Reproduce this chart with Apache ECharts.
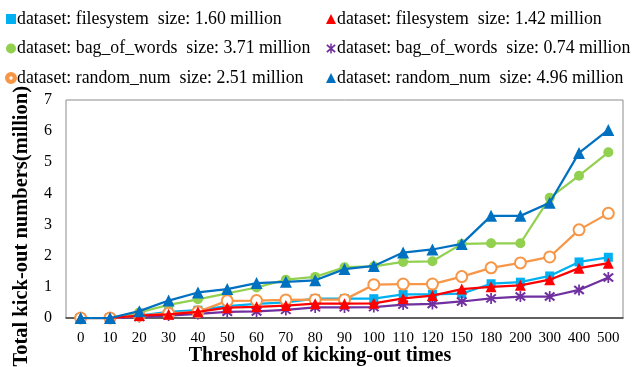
<!DOCTYPE html>
<html>
<head>
<meta charset="utf-8">
<script src="https://cdn.jsdelivr.net/npm/echarts@6/dist/echarts.min.js"></script>
<style>
  html, body { margin: 0; padding: 0; background: #fff; }
  #chart { width: 635px; height: 367px; }
</style>
</head>
<body>
<div id="chart"></div>
<script>
// Threshold of kicking-out times (x categories)
const thresholds = ['0', '10', '20', '30', '40', '50', '60', '70', '80', '90', '100', '110', '120', '150', '180', '200', '300', '400', '500'];

// Total kick-out numbers (million) per dataset
const filesystem160 = [0, 0, 0.08, 0.2, 0.25, 0.38, 0.45, 0.5, 0.62, 0.62, 0.62, 0.76, 0.76, 0.78, 1.1, 1.15, 1.35, 1.8, 1.95];
const filesystem142 = [0, 0, 0.08, 0.12, 0.2, 0.33, 0.36, 0.4, 0.46, 0.46, 0.47, 0.63, 0.72, 0.93, 1.0, 1.05, 1.23, 1.6, 1.76];
const bagOfWords371 = [0, 0, 0.18, 0.42, 0.6, 0.79, 0.98, 1.23, 1.32, 1.63, 1.66, 1.8, 1.82, 2.38, 2.4, 2.4, 3.86, 4.57, 5.32];
const bagOfWords074 = [0, 0, 0.03, 0.08, 0.13, 0.2, 0.21, 0.26, 0.34, 0.34, 0.35, 0.43, 0.45, 0.53, 0.63, 0.69, 0.69, 0.9, 1.3];
const randomNum251 = [0, 0, 0.08, 0.15, 0.2, 0.55, 0.56, 0.58, 0.59, 0.59, 1.07, 1.09, 1.09, 1.33, 1.61, 1.77, 1.96, 2.83, 3.36];
const randomNum496 = [0, 0, 0.22, 0.56, 0.82, 0.93, 1.12, 1.16, 1.21, 1.57, 1.67, 2.1, 2.2, 2.38, 3.28, 3.28, 3.7, 5.3, 6.04];

const seriesNames = [
  'dataset: filesystem  size: 1.60 million',
  'dataset: filesystem  size: 1.42 million',
  'dataset: bag_of_words  size: 3.71 million',
  'dataset: bag_of_words  size: 0.74 million',
  'dataset: random_num  size: 2.51 million',
  'dataset: random_num  size: 4.96 million'
];

const xTitle = 'Threshold of kicking-out times';
const yTitle = 'Total kick-out numbers(million)';

// Asterisk marker: one vertical bar and two diagonals
const asterisk = 'path://M8.5 0L11.5 0L11.5 20L8.5 20Z M0.5 4L3 1.5L19.5 16L17 18.5Z M17 1.5L19.5 4L3 18.5L0.5 16Z';
// Ring used as the legend icon of the hollow-circle series
const ring = 'path://M10 0A10 10 0 1 1 10 20A10 10 0 1 1 10 0Z M10 4.5A5.5 5.5 0 1 0 10 15.5A5.5 5.5 0 1 0 10 4.5Z';

const FONT = '"Liberation Serif", "Times New Roman", serif';

function lineSeries(name, data, color, symbol, size, extra) {
  return Object.assign({
    name: name,
    type: 'line',
    data: data,
    symbol: symbol,
    symbolSize: size,
    showAllSymbol: true,
    lineStyle: { color: color, width: 2.25 },
    itemStyle: { color: color },
    emphasis: { disabled: true },
    animation: false
  }, extra || {});
}

const chart = echarts.init(document.getElementById('chart'), null, { renderer: 'canvas' });

const legendBase = {
  orient: 'vertical',
  top: 10,
  itemWidth: 10,
  itemHeight: 10,
  itemGap: 11.5,
  padding: 0,
  selectedMode: false,
  textStyle: { fontFamily: FONT, fontSize: 17.8, color: '#000', padding: [0, 0, 0, -4] }
};

chart.setOption({
  backgroundColor: '#fff',
  animation: false,
  grid: {
    left: 66, right: 12, top: 100, bottom: 49,
    outerBoundsMode: 'none',
    containLabel: false,
    show: true, borderColor: '#8c8c8c', borderWidth: 1, backgroundColor: 'transparent'
  },
  legend: [
    Object.assign({}, legendBase, {
      left: 5,
      data: [
        { name: seriesNames[0], icon: 'rect' },
        { name: seriesNames[2], icon: 'circle' },
        { name: seriesNames[4], icon: ring, itemWidth: 9, itemHeight: 9 }
      ]
    }),
    Object.assign({}, legendBase, {
      left: 326,
      data: [
        { name: seriesNames[1], icon: 'triangle' },
        { name: seriesNames[3], icon: asterisk },
        { name: seriesNames[5], icon: 'triangle' }
      ]
    })
  ],
  xAxis: {
    type: 'category',
    data: thresholds,
    boundaryGap: true,
    axisLine: { lineStyle: { color: '#404040', width: 1.5 } },
    axisTick: { show: false },
    axisLabel: { interval: 0, fontFamily: FONT, fontSize: 15, color: '#000', margin: 13 }
  },
  yAxis: {
    type: 'value',
    min: 0, max: 7, interval: 1,
    axisLine: { show: false },
    axisTick: { show: false },
    splitLine: { show: false },
    axisLabel: { fontFamily: FONT, fontSize: 16, color: '#000', margin: 14 }
  },
  graphic: [
    {
      type: 'text',
      x: 320,
      y: 356,
      style: {
        text: xTitle,
        font: 'bold 20px "Liberation Serif", serif',
        fill: '#000',
        align: 'center',
        verticalAlign: 'middle'
      }
    },
    {
      type: 'text',
      x: 22,
      y: 86,
      rotation: Math.PI / 2,
      style: {
        text: yTitle,
        font: 'bold 20.5px "Liberation Serif", serif',
        fill: '#000',
        align: 'right',
        verticalAlign: 'middle'
      }
    }
  ],
  series: [
    lineSeries(seriesNames[0], filesystem160, '#00B0F0', 'rect', 9, { z: 2 }),
    lineSeries(seriesNames[1], filesystem142, '#FF0000', 'triangle', 11, { z: 3 }),
    lineSeries(seriesNames[2], bagOfWords371, '#92D050', 'circle', 10, { z: 2 }),
    lineSeries(seriesNames[3], bagOfWords074, '#7030A0', asterisk, 11, { z: 2 }),
    lineSeries(seriesNames[4], randomNum251, '#F79646', 'emptyCircle', 11, {
      z: 2,
      itemStyle: { color: '#F79646', borderColor: '#F79646', borderWidth: 2 }
    }),
    lineSeries(seriesNames[5], randomNum496, '#0070C0', 'triangle', 12, { z: 3 })
  ]
});
</script>
</body>
</html>
